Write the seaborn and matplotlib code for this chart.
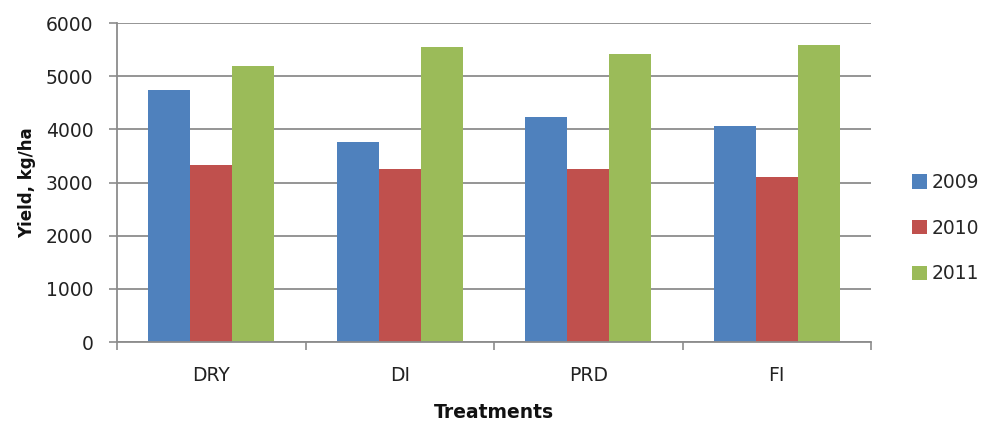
import matplotlib
matplotlib.use("Agg")
import matplotlib.pyplot as plt
import seaborn as sns
import pandas as pd
import numpy as np

treatments = ["DRY", "DI", "PRD", "FI"]
years = ["2009", "2010", "2011"]
yield_2009 = [4740, 3770, 4235, 4060]
yield_2010 = [3320, 3245, 3245, 3105]
yield_2011 = [5195, 5550, 5415, 5590]
y_ticks = [0, 1000, 2000, 3000, 4000, 5000, 6000]
colors = ["#4F81BD", "#C0504D", "#9BBB59"]

rows = []
for yr, vals in zip(years, [yield_2009, yield_2010, yield_2011]):
    for t, v in zip(treatments, vals):
        rows.append({"Treatment": t, "Year": yr, "Yield": v})
df = pd.DataFrame(rows)

sns.set_theme(style="white")
plt.rcParams['font.family'] = ['DejaVu Sans']

fig = plt.figure(figsize=(9.83, 4.23), dpi=100)
ax = fig.add_axes([117/983, 1-342/423, (871-117)/983, (342-23)/423])

sns.barplot(data=df, x="Treatment", y="Yield", hue="Year", order=treatments,
            hue_order=years, palette=colors, width=0.668, ax=ax,
            saturation=1, edgecolor="none", errorbar=None)

ax.set_xlim(-0.5, 3.5)
ax.set_ylim(0, 6000)
ax.set_yticks(y_ticks)
ax.set_yticklabels([str(v) for v in y_ticks], fontsize=13.5, color="#222222")
ax.yaxis.grid(True, color="#8C8C8C", linewidth=1.3)
ax.set_axisbelow(True)

ax.set_xticks(range(len(treatments)))
ax.set_xticklabels(treatments, fontsize=13.5, color="#222222")
ax.tick_params(axis="x", which="major", length=0, pad=17)
ax.set_xticks(np.arange(-0.5, 3.6, 1.0), minor=True)
ax.tick_params(axis="x", which="minor", length=6, width=1.2, color="#8C8C8C", direction="out", bottom=True)
ax.tick_params(axis="y", length=6, width=1.2, color="#8C8C8C", direction="out", left=True, pad=11)

for s in ["top", "right"]:
    ax.spines[s].set_visible(False)
for s in ["left", "bottom"]:
    ax.spines[s].set_color("#8C8C8C")
    ax.spines[s].set_linewidth(1.3)

ax.set_xlabel("Treatments", fontsize=13.5, fontweight="bold", labelpad=13, color="#111111")
ax.set_ylabel("Yield, kg/ha", fontsize=12, fontweight="bold", labelpad=7, color="#111111")

leg = ax.legend(title=None, loc="center left", bbox_to_anchor=(1.054, 0.357), frameon=False,
                fontsize=13.5, handlelength=0.8, handleheight=0.8, handletextpad=0.27,
                labelspacing=1.42, borderaxespad=0, borderpad=0)

fig.savefig("out.png", dpi=100)
